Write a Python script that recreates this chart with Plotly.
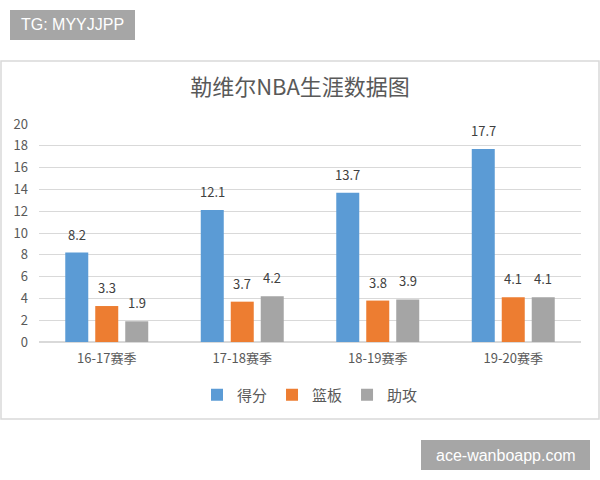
import plotly.graph_objects as go

# --- data ---
seasons = ["16-17赛季", "17-18赛季", "18-19赛季", "19-20赛季"]
points = [8.2, 12.1, 13.7, 17.7]
rebounds = [3.3, 3.7, 3.8, 4.1]
assists = [1.9, 4.2, 3.9, 4.1]
series_names = ["得分", "篮板", "助攻"]
y_ticks = [0, 2, 4, 6, 8, 10, 12, 14, 16, 18, 20]

colors = ["#5B9BD5", "#ED7D31", "#A5A5A5"]
cjk = "Noto Sans CJK SC"
text_grey = "#595959"

# plot area in pixels (page is 600x480)
L, R, T, B = 39, 19, 124, 138
W, H = 600, 480
pw, ph = W - L - R, H - T - B


def px_x(x):
    return (x - L) / pw


def px_y(y):
    return (H - B - y) / ph


fig = go.Figure()
all_series = [points, rebounds, assists]
for name, vals, col in zip(series_names, all_series, colors):
    fig.add_trace(go.Bar(x=seasons, y=vals, name=name, marker_color=col,
                         marker_line_width=0))

# data labels above each bar
offsets = [-30, 0, 30]
for vals, dx in zip(all_series, offsets):
    for cat, v in zip(seasons, vals):
        fig.add_annotation(x=cat, y=v, text=f"{v}", showarrow=False,
                           xshift=dx, yshift=7, yanchor="bottom",
                           font=dict(family=cjk, size=13, color="#404040"))

# outer chart border
fig.add_shape(type="rect", xref="paper", yref="paper",
              x0=px_x(1), x1=px_x(599), y0=px_y(419), y1=px_y(61),
              line=dict(color="#d9d9d9", width=1.5), fillcolor="rgba(0,0,0,0)",
              layer="below")

# watermark boxes
fig.add_shape(type="rect", xref="paper", yref="paper",
              x0=px_x(10), x1=px_x(135), y0=px_y(40), y1=px_y(10),
              line_width=0, fillcolor="#a6a6a6")
fig.add_annotation(xref="paper", yref="paper", x=px_x(72.5), y=px_y(25),
                   xanchor="center", yanchor="middle",
                   text="TG: MYYJJPP", showarrow=False,
                   font=dict(family="Liberation Sans", size=16, color="white"))
fig.add_shape(type="rect", xref="paper", yref="paper",
              x0=px_x(421), x1=px_x(590), y0=px_y(470), y1=px_y(440),
              line_width=0, fillcolor="#a6a6a6")
fig.add_annotation(xref="paper", yref="paper", x=px_x(505.5), y=px_y(455),
                   xanchor="center", yanchor="middle",
                   text="ace-wanboapp.com", showarrow=False,
                   font=dict(family="Liberation Sans", size=16, color="white"))

fig.update_layout(
    width=W, height=H,
    margin=dict(l=L, r=R, t=T, b=B, pad=0),
    paper_bgcolor="white", plot_bgcolor="white",
    barmode="group", bargap=0.336, bargroupgap=0.233,
    title=dict(text="勒维尔NBA生涯数据图", x=0.5, xanchor="center",
               y=1 - 87 / H, yanchor="middle",
               font=dict(family=cjk, size=22, color=text_grey)),
    legend=dict(orientation="h", x=0.5, xanchor="center",
                y=px_y(395), yanchor="middle", itemwidth=30,
                font=dict(family=cjk, size=15, color=text_grey)),
    showlegend=True,
)
fig.update_xaxes(showgrid=False, showline=False, ticks="",
                 ticklabelstandoff=7,
                 tickfont=dict(family=cjk, size=13, color=text_grey))
fig.update_yaxes(range=[0, 20], tickvals=y_ticks, showgrid=True,
                 gridcolor="#d9d9d9", zeroline=True, zerolinecolor="#d9d9d9",
                 showline=False, ticklabelstandoff=10,
                 tickfont=dict(family=cjk, size=13, color=text_grey))

# drop the default 8px body margin so the figure sits at the page corner
fig.write_html("out.html", config={"displayModeBar": False},
               post_script="document.body.style.margin='0px';")
